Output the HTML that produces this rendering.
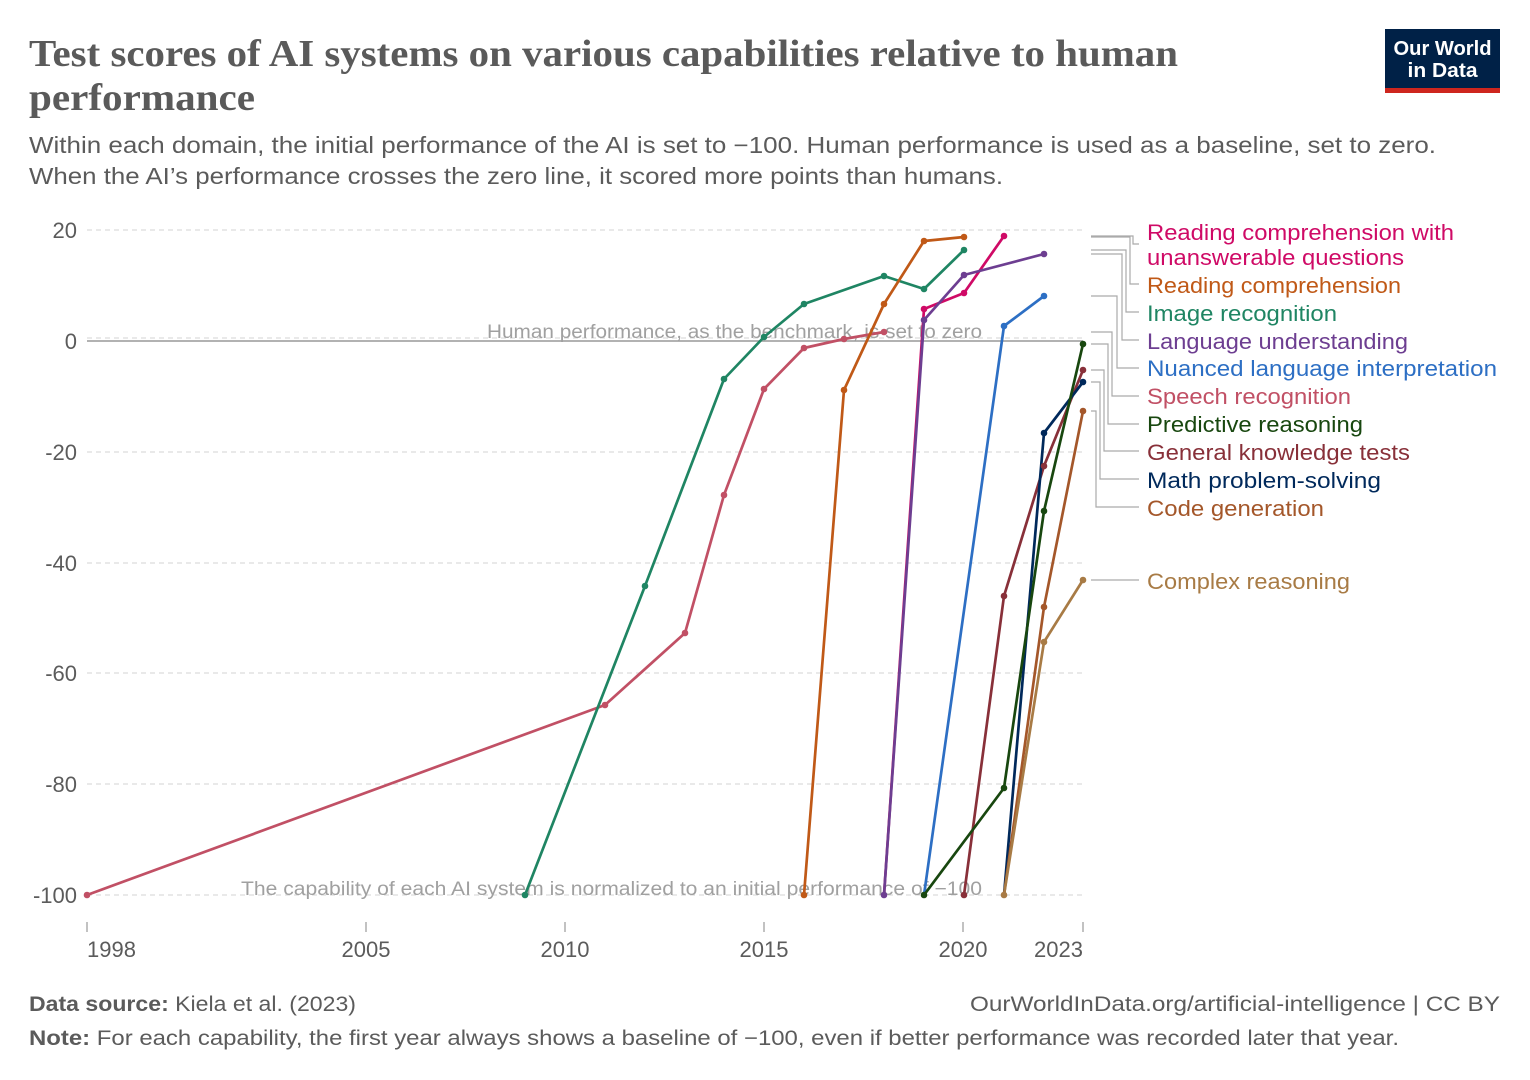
<!DOCTYPE html>
<html><head><meta charset="utf-8"><style>
html,body{margin:0;padding:0;background:#fff;}
svg{display:block;}
text{font-family:"Liberation Sans",sans-serif;}
text.serif{font-family:"Liberation Serif",serif;}
</style></head><body>
<svg width="1530" height="1080" viewBox="0 0 1530 1080" xmlns="http://www.w3.org/2000/svg">
<rect width="1530" height="1080" fill="#fff"/>
<!-- Title -->
<text class="serif" x="29" y="66" style="font-family:'Liberation Serif',serif" font-weight="bold" font-size="38" fill="#5a5a5a" textLength="1149" lengthAdjust="spacingAndGlyphs">Test scores of AI systems on various capabilities relative to human</text>
<text class="serif" x="29" y="110" style="font-family:'Liberation Serif',serif" font-weight="bold" font-size="38" fill="#5a5a5a" textLength="226" lengthAdjust="spacingAndGlyphs">performance</text>
<text x="29" y="153" font-size="23" fill="#5b5b5b" textLength="1407" lengthAdjust="spacingAndGlyphs">Within each domain, the initial performance of the AI is set to −100. Human performance is used as a baseline, set to zero.</text>
<text x="29" y="184" font-size="23" fill="#5b5b5b" textLength="974" lengthAdjust="spacingAndGlyphs">When the AI’s performance crosses the zero line, it scored more points than humans.</text>

<!-- Logo -->
<rect x="1385" y="29" width="115" height="60" fill="#002147"/>
<rect x="1385" y="88" width="115" height="5" fill="#ce261e"/>
<text x="1442.5" y="55" font-size="20" font-weight="bold" fill="#fff" text-anchor="middle" textLength="98" lengthAdjust="spacingAndGlyphs">Our World</text>
<text x="1442.5" y="77" font-size="20" font-weight="bold" fill="#fff" text-anchor="middle" textLength="70" lengthAdjust="spacingAndGlyphs">in Data</text>

<!-- Grid -->
<g stroke="#dcdcdc" stroke-width="1.2" stroke-dasharray="5,4" fill="none">
<line x1="87" y1="230" x2="1083" y2="230"/>
<line x1="87" y1="338" x2="1083" y2="338"/>
<line x1="87" y1="452" x2="1083" y2="452"/>
<line x1="87" y1="563" x2="1083" y2="563"/>
<line x1="87" y1="673" x2="1083" y2="673"/>
<line x1="87" y1="784" x2="1083" y2="784"/>
<line x1="87" y1="895" x2="1083" y2="895"/>
</g>
<line x1="87" y1="341" x2="1083" y2="341" stroke="#999" stroke-width="1.6"/>

<!-- Y labels -->
<g font-size="22" fill="#5b5b5b" text-anchor="end">
<text x="77" y="238">20</text>
<text x="77" y="349">0</text>
<text x="77" y="460">-20</text>
<text x="77" y="571">-40</text>
<text x="77" y="681">-60</text>
<text x="77" y="792">-80</text>
<text x="77" y="903">-100</text>
</g>

<!-- X ticks -->
<g stroke="#999" stroke-width="1.2">
<line x1="87" y1="922" x2="87" y2="932"/>
<line x1="366" y1="922" x2="366" y2="932"/>
<line x1="565" y1="922" x2="565" y2="932"/>
<line x1="764" y1="922" x2="764" y2="932"/>
<line x1="963" y1="922" x2="963" y2="932"/>
<line x1="1083" y1="922" x2="1083" y2="932"/>
</g>
<g font-size="22" fill="#5b5b5b">
<text x="87" y="957">1998</text>
<text x="366" y="957" text-anchor="middle">2005</text>
<text x="565" y="957" text-anchor="middle">2010</text>
<text x="764" y="957" text-anchor="middle">2015</text>
<text x="963" y="957" text-anchor="middle">2020</text>
<text x="1083" y="957" text-anchor="end">2023</text>
</g>

<!-- Annotations -->
<text x="487" y="338" font-size="19" fill="#a0a0a0" textLength="495" lengthAdjust="spacingAndGlyphs">Human performance, as the benchmark, is set to zero</text>
<text x="241" y="895" font-size="19" fill="#a0a0a0" textLength="741" lengthAdjust="spacingAndGlyphs">The capability of each AI system is normalized to an initial performance of −100</text>

<!-- Series -->
<g fill="none" stroke-width="2.7" stroke-linejoin="round" stroke-linecap="round">
<polyline stroke="#c15065" points="87,895 605,705 685,633 724,495 764,389 804,348 844,339 884,332"/>
<polyline stroke="#1f8563" points="525,895 645,586 724,379 764,337 804,304 884,276 924,289 964,250"/>
<polyline stroke="#c05917" points="804,895 844,390 884,304 924,241 964,237"/>
<polyline stroke="#cf0a66" points="884,895 924,309 964,293 1004,236"/>
<polyline stroke="#6d3e91" points="884,895 924,320 964,275 1044,254"/>
<polyline stroke="#2d6fc4" points="924,895 1004,326 1044,296"/>
<polyline stroke="#883039" points="964,895 1004,596 1044,466 1083,370"/>
<polyline stroke="#00295b" points="1004,895 1044,433 1083,382"/>
<polyline stroke="#a4572a" points="1004,895 1044,607 1083,411"/>
<polyline stroke="#a87b45" points="1004,895 1044,642 1083,580"/>
<polyline stroke="#18470f" points="924,895 1004,788 1044,511 1083,344"/>
</g>
<g>
<g fill="#c15065"><circle cx="87" cy="895" r="3.3"/><circle cx="605" cy="705" r="3.3"/><circle cx="685" cy="633" r="3.3"/><circle cx="724" cy="495" r="3.3"/><circle cx="764" cy="389" r="3.3"/><circle cx="804" cy="348" r="3.3"/><circle cx="844" cy="339" r="3.3"/><circle cx="884" cy="332" r="3.3"/></g>
<g fill="#1f8563"><circle cx="525" cy="895" r="3.3"/><circle cx="645" cy="586" r="3.3"/><circle cx="724" cy="379" r="3.3"/><circle cx="764" cy="337" r="3.3"/><circle cx="804" cy="304" r="3.3"/><circle cx="884" cy="276" r="3.3"/><circle cx="924" cy="289" r="3.3"/><circle cx="964" cy="250" r="3.3"/></g>
<g fill="#c05917"><circle cx="804" cy="895" r="3.3"/><circle cx="844" cy="390" r="3.3"/><circle cx="884" cy="304" r="3.3"/><circle cx="924" cy="241" r="3.3"/><circle cx="964" cy="237" r="3.3"/></g>
<g fill="#cf0a66"><circle cx="924" cy="309" r="3.3"/><circle cx="964" cy="293" r="3.3"/><circle cx="1004" cy="236" r="3.3"/></g>
<g fill="#6d3e91"><circle cx="884" cy="895" r="3.3"/><circle cx="924" cy="320" r="3.3"/><circle cx="964" cy="275" r="3.3"/><circle cx="1044" cy="254" r="3.3"/></g>
<g fill="#2d6fc4"><circle cx="1004" cy="326" r="3.3"/><circle cx="1044" cy="296" r="3.3"/></g>
<g fill="#883039"><circle cx="964" cy="895" r="3.3"/><circle cx="1004" cy="596" r="3.3"/><circle cx="1044" cy="466" r="3.3"/><circle cx="1083" cy="370" r="3.3"/></g>
<g fill="#00295b"><circle cx="1044" cy="433" r="3.3"/><circle cx="1083" cy="382" r="3.3"/></g>
<g fill="#a4572a"><circle cx="1044" cy="607" r="3.3"/><circle cx="1083" cy="411" r="3.3"/></g>
<g fill="#a87b45"><circle cx="1004" cy="895" r="3.3"/><circle cx="1044" cy="642" r="3.3"/><circle cx="1083" cy="580" r="3.3"/></g>
<g fill="#18470f"><circle cx="924" cy="895" r="3.3"/><circle cx="1004" cy="788" r="3.3"/><circle cx="1044" cy="511" r="3.3"/><circle cx="1083" cy="344" r="3.3"/></g>
</g>

<!-- Legend connectors -->
<g fill="none" stroke="#aaa" stroke-width="1.2">
<polyline points="1091,236 1133,236 1133,244 1139,244"/>
<polyline points="1091,237 1130,237 1130,284 1139,284"/>
<polyline points="1091,250 1126,250 1126,312 1139,312"/>
<polyline points="1091,254 1122,254 1122,340 1139,340"/>
<polyline points="1091,296 1117,296 1117,368 1139,368"/>
<polyline points="1091,332 1112,332 1112,396 1139,396"/>
<polyline points="1091,344 1108,344 1108,424 1139,424"/>
<polyline points="1091,370 1104,370 1104,451 1139,451"/>
<polyline points="1091,382 1100,382 1100,479 1139,479"/>
<polyline points="1091,411 1096,411 1096,507 1139,507"/>
<polyline points="1091,580 1139,580"/>
</g>

<!-- Legend labels -->
<g font-size="22">
<text x="1147" y="240" fill="#cf0a66" textLength="307" lengthAdjust="spacingAndGlyphs">Reading comprehension with</text>
<text x="1147" y="265" fill="#cf0a66" textLength="257" lengthAdjust="spacingAndGlyphs">unanswerable questions</text>
<text x="1147" y="293" fill="#c05917" textLength="254" lengthAdjust="spacingAndGlyphs">Reading comprehension</text>
<text x="1147" y="321" fill="#1f8563" textLength="190" lengthAdjust="spacingAndGlyphs">Image recognition</text>
<text x="1147" y="349" fill="#6d3e91" textLength="261" lengthAdjust="spacingAndGlyphs">Language understanding</text>
<text x="1147" y="376" fill="#2d6fc4" textLength="350" lengthAdjust="spacingAndGlyphs">Nuanced language interpretation</text>
<text x="1147" y="404" fill="#c15065" textLength="204" lengthAdjust="spacingAndGlyphs">Speech recognition</text>
<text x="1147" y="432" fill="#18470f" textLength="216" lengthAdjust="spacingAndGlyphs">Predictive reasoning</text>
<text x="1147" y="460" fill="#883039" textLength="263" lengthAdjust="spacingAndGlyphs">General knowledge tests</text>
<text x="1147" y="488" fill="#00295b" textLength="234" lengthAdjust="spacingAndGlyphs">Math problem-solving</text>
<text x="1147" y="516" fill="#a4572a" textLength="177" lengthAdjust="spacingAndGlyphs">Code generation</text>
<text x="1147" y="589" fill="#a87b45" textLength="203" lengthAdjust="spacingAndGlyphs">Complex reasoning</text>
</g>

<!-- Footer -->
<text x="29" y="1011" font-size="21" fill="#5b5b5b" textLength="327" lengthAdjust="spacingAndGlyphs"><tspan font-weight="bold">Data source:</tspan> Kiela et al. (2023)</text>
<text x="1500" y="1011" font-size="21" fill="#5b5b5b" text-anchor="end" textLength="530" lengthAdjust="spacingAndGlyphs">OurWorldInData.org/artificial-intelligence | CC BY</text>
<text x="29" y="1045" font-size="21" fill="#5b5b5b" textLength="1370" lengthAdjust="spacingAndGlyphs"><tspan font-weight="bold">Note:</tspan> For each capability, the first year always shows a baseline of −100, even if better performance was recorded later that year.</text>
</svg>
</body></html>
